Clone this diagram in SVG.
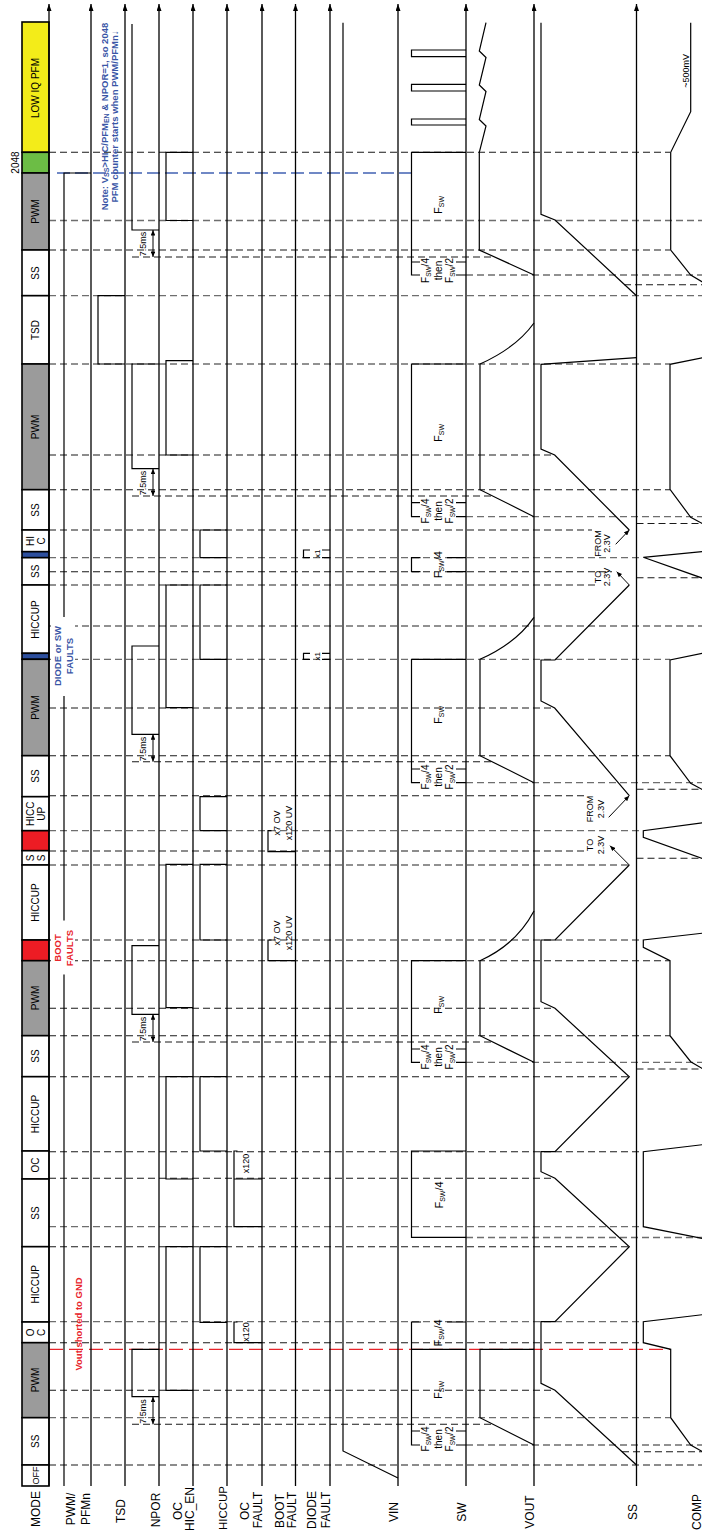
<svg xmlns="http://www.w3.org/2000/svg" width="702" height="1530" viewBox="0 0 702 1530">
<defs>
<style>
.ax{stroke:#000;stroke-width:1.3;fill:none}
.sg{stroke:#000;stroke-width:1.2;fill:none}
.dk{stroke:#1a1a1a;stroke-width:1.1;stroke-dasharray:7 4;fill:none}
.dg{stroke:#6e6e6e;stroke-width:1.3;stroke-dasharray:7 4;fill:none}
.db{stroke:#4262b2;stroke-width:1.3;stroke-dasharray:13 5;fill:none}
.dr{stroke:#e8242b;stroke-width:1.3;stroke-dasharray:14 6;fill:none}
.mb{stroke:#000;stroke-width:1.6}
.ar{stroke:#000;stroke-width:1;fill:none}
text{font-family:"Liberation Sans",Arial,Helvetica,sans-serif;fill:#000;text-anchor:middle}
.lb{font-size:12px}
.md{font-size:10px}
.sm{font-size:9px}
.sl{font-size:10px}
.fs{font-size:11px}
.bl{fill:#3a56a6;font-weight:bold;font-size:9.5px}
.rd{fill:#e8242b;font-weight:bold;font-size:9.5px}
</style>
<marker id="up" viewBox="0 0 7 5" refX="7" refY="2.5" markerWidth="7" markerHeight="5" markerUnits="userSpaceOnUse" orient="auto"><path d="M0,0L7,2.5L0,5z" fill="#000"/></marker>
<marker id="ah" viewBox="0 0 6 5" refX="6" refY="2.5" markerWidth="6" markerHeight="4.5" markerUnits="userSpaceOnUse" orient="auto-start-reverse"><path d="M0,0L6,2.5L0,5z" fill="#000"/></marker>
</defs>
<rect x="0" y="0" width="702" height="1530" fill="#fff"/>

<g id="connectors">
<path class="dk" d="M49,152.3H670"/>
<path class="db" d="M57,173H411.5"/>
<path class="dg" d="M49,220.5H702"/>
<path class="dk" d="M49,250H670"/>
<path class="dk" d="M132,257H494"/>
<path class="dg" d="M466,275H702"/>
<path class="dk" d="M624,284.7H702"/>
<path class="dg" d="M49,295.7H702"/>
<path class="dg" d="M49,364H670"/>
<path class="dk" d="M49,455H555"/>
<path class="dk" d="M49,489.7H670"/>
<path class="dk" d="M132,496H492.6"/>
<path class="dg" d="M466,516.7H702"/>
<path class="dk" d="M636.5,523.5H702"/>
<path class="dk" d="M49,530H592"/>
<path class="dg" d="M49,557.7H643"/>
<path class="dk" d="M49,571.7H612"/>
<path class="dk" d="M636.5,577.7H702"/>
<path class="dg" d="M49,585H595"/>
<path class="dg" d="M49,626H702"/>
<path class="dg" d="M49,659.3H670"/>
<path class="dk" d="M49,708H555"/>
<path class="dk" d="M49,755.7H670"/>
<path class="dk" d="M132,761.7H492"/>
<path class="dg" d="M466,782.7H702"/>
<path class="dk" d="M636.5,789.3H702"/>
<path class="dk" d="M49,795.7H586"/>
<path class="dg" d="M49,830.7H643"/>
<path class="dk" d="M49,851H588"/>
<path class="dk" d="M636.5,858.3H702"/>
<path class="dg" d="M49,865H629"/>
<path class="dg" d="M49,940H643"/>
<path class="dk" d="M49,960.7H670"/>
<path class="dk" d="M49,1008.3H555"/>
<path class="dk" d="M49,1035.7H670"/>
<path class="dk" d="M132,1042H492.6"/>
<path class="dg" d="M466,1062.3H702"/>
<path class="dk" d="M636.5,1069H702"/>
<path class="dk" d="M49,1076.7H629"/>
<path class="dk" d="M49,1151.7H643"/>
<path class="dk" d="M49,1178.3H555"/>
<path class="dg" d="M49,1226.7H643"/>
<path class="dg" d="M466,1237.5H702"/>
<path class="dk" d="M49,1246.7H629"/>
<path class="dg" d="M49,1321.7H643"/>
<path class="dk" d="M49,1342.7H643"/>
<path class="dk" d="M49,1390.3H555"/>
<path class="dg" d="M49,1417.7H670"/>
<path class="dk" d="M132,1424.3H491"/>
<path class="dg" d="M466,1445H702"/>
<path class="dk" d="M622,1451.7H702"/>
<path class="dk" d="M49,1465H702"/>
<path class="dr" d="M49,1349.3H670"/>
</g>

<g id="mode">
<rect class="mb" x="22" y="22" width="27" height="130.3" fill="#f3ec19"/>
<rect class="mb" x="22" y="152.3" width="27" height="20.7" fill="#6cbd45"/>
<rect class="mb" x="22" y="173" width="27" height="77" fill="#9b9b9b"/>
<rect class="mb" x="22" y="250" width="27" height="45.7" fill="#fff"/>
<rect class="mb" x="22" y="295.7" width="27" height="68.3" fill="#fff"/>
<rect class="mb" x="22" y="364" width="27" height="125.7" fill="#9b9b9b"/>
<rect class="mb" x="22" y="489.7" width="27" height="40.3" fill="#fff"/>
<rect class="mb" x="22" y="530" width="27" height="21.7" fill="#fff"/>
<rect class="mb" x="22" y="551.7" width="27" height="6" fill="#2d4f9e"/>
<rect class="mb" x="22" y="557.7" width="27" height="27.3" fill="#fff"/>
<rect class="mb" x="22" y="585" width="27" height="68.3" fill="#fff"/>
<rect class="mb" x="22" y="653.3" width="27" height="6" fill="#2d4f9e"/>
<rect class="mb" x="22" y="659.3" width="27" height="96.4" fill="#9b9b9b"/>
<rect class="mb" x="22" y="755.7" width="27" height="41" fill="#fff"/>
<rect class="mb" x="22" y="796.7" width="27" height="34" fill="#fff"/>
<rect class="mb" x="22" y="830.7" width="27" height="20" fill="#ed1c24"/>
<rect class="mb" x="22" y="850.7" width="27" height="14.3" fill="#fff"/>
<rect class="mb" x="22" y="865" width="27" height="75" fill="#fff"/>
<rect class="mb" x="22" y="940" width="27" height="20.7" fill="#ed1c24"/>
<rect class="mb" x="22" y="960.7" width="27" height="75" fill="#9b9b9b"/>
<rect class="mb" x="22" y="1035.7" width="27" height="41" fill="#fff"/>
<rect class="mb" x="22" y="1076.7" width="27" height="74.3" fill="#fff"/>
<rect class="mb" x="22" y="1151" width="27" height="28" fill="#fff"/>
<rect class="mb" x="22" y="1179" width="27" height="67.7" fill="#fff"/>
<rect class="mb" x="22" y="1246.7" width="27" height="75.3" fill="#fff"/>
<rect class="mb" x="22" y="1322" width="27" height="20.7" fill="#fff"/>
<rect class="mb" x="22" y="1342.7" width="27" height="75" fill="#9b9b9b"/>
<rect class="mb" x="22" y="1417.7" width="27" height="47.3" fill="#fff"/>
<rect class="mb" x="22" y="1465" width="27" height="21" fill="#fff"/>
<text class="md" transform="translate(39.3,88) rotate(-90)">LOW IQ PFM</text>
<text class="md" transform="translate(38.5,211.5) rotate(-90)">PWM</text>
<text class="md" transform="translate(39,273) rotate(-90)">SS</text>
<text class="md" transform="translate(39,330) rotate(-90)">TSD</text>
<text class="md" transform="translate(38.5,427) rotate(-90)">PWM</text>
<text class="md" transform="translate(39,510) rotate(-90)">SS</text>
<text class="md" transform="translate(33.6,541) rotate(-90)">HI</text>
<text class="md" transform="translate(44.8,541) rotate(-90)">C</text>
<text class="md" transform="translate(39,571.3) rotate(-90)">SS</text>
<text class="md" transform="translate(39,619.5) rotate(-90)">HICCUP</text>
<text class="md" transform="translate(38.5,707.5) rotate(-90)">PWM</text>
<text class="md" transform="translate(39,776) rotate(-90)">SS</text>
<text class="md" transform="translate(33.6,813.7) rotate(-90)">HICC</text>
<text class="md" transform="translate(44.8,813.7) rotate(-90)">UP</text>
<text class="md" transform="translate(33.6,857.9) rotate(-90)">S</text>
<text class="md" transform="translate(44.8,857.9) rotate(-90)">S</text>
<text class="md" transform="translate(39,902.5) rotate(-90)">HICCUP</text>
<text class="md" transform="translate(38.5,998) rotate(-90)">PWM</text>
<text class="md" transform="translate(39,1056) rotate(-90)">SS</text>
<text class="md" transform="translate(39,1114) rotate(-90)">HICCUP</text>
<text class="md" transform="translate(39,1165) rotate(-90)">OC</text>
<text class="md" transform="translate(39,1213) rotate(-90)">SS</text>
<text class="md" transform="translate(39,1284.3) rotate(-90)">HICCUP</text>
<text class="md" transform="translate(33.6,1332.3) rotate(-90)">O</text>
<text class="md" transform="translate(44.8,1332.3) rotate(-90)">C</text>
<text class="md" transform="translate(38.5,1380) rotate(-90)">PWM</text>
<text class="md" transform="translate(39,1441.3) rotate(-90)">SS</text>
<text class="sm" transform="translate(39,1475.5) rotate(-90)">OFF</text>
<text class="md" transform="translate(18.5,162.5) rotate(-90)">2048</text>
</g>

<g id="axes">
<path class="ax" marker-end="url(#up)" d="M49,1486V4"/>
<path class="ax" marker-end="url(#up)" d="M91,1486V4"/>
<path class="ax" marker-end="url(#up)" d="M125,1486V4"/>
<path class="ax" marker-end="url(#up)" d="M159,1486V4"/>
<path class="ax" marker-end="url(#up)" d="M193,1486V4"/>
<path class="ax" marker-end="url(#up)" d="M227,1486V4"/>
<path class="ax" marker-end="url(#up)" d="M262,1486V4"/>
<path class="ax" marker-end="url(#up)" d="M295.5,1486V4"/>
<path class="ax" marker-end="url(#up)" d="M330,1486V4"/>
<path class="ax" marker-end="url(#up)" d="M398,1486V4"/>
<path class="ax" marker-end="url(#up)" d="M466,1486V4"/>
<path class="ax" marker-end="url(#up)" d="M534,1486V4"/>
<path class="ax" marker-end="url(#up)" d="M636.5,1486V4"/>
</g>

<g id="sig-pwmpfm">
<path class="sg" d="M91,173H64V617M64,696V920.7M64,974.3V1486"/>
</g>
<g id="sig-tsd">
<path class="sg" d="M125,295.7H98V364H125"/>
</g>
<g id="sig-npor">
<path class="sg" d="M132,24V230H159M159,364H132V468.7H159M159,646H132V734.3H159M159,945.7H132V1014.3H159M159,1349.3H132V1396.7H159"/>
<path class="ar" marker-start="url(#ah)" marker-end="url(#ah)" d="M153,230V257"/>
<path class="ar" marker-start="url(#ah)" marker-end="url(#ah)" d="M153,468.7V496"/>
<path class="ar" marker-start="url(#ah)" marker-end="url(#ah)" d="M153,734.3V761.7"/>
<path class="ar" marker-start="url(#ah)" marker-end="url(#ah)" d="M153,1014.3V1042"/>
<path class="ar" marker-start="url(#ah)" marker-end="url(#ah)" d="M153,1396.7V1424.3"/>
<text class="sm" transform="translate(146,244) rotate(-90)">7.5ms</text>
<text class="sm" transform="translate(146,483) rotate(-90)">7.5ms</text>
<text class="sm" transform="translate(146,749) rotate(-90)">7.5ms</text>
<text class="sm" transform="translate(146,1029) rotate(-90)">7.5ms</text>
<text class="sm" transform="translate(146,1411.5) rotate(-90)">7.5ms</text>
</g>
<g id="sig-ochicen">
<path class="sg" d="M193,152.3H166V220.5H193M193,360.7H166V455H193M193,585H166V707.7H193M193,864.3H166V1007.7H193M193,1076.7H166V1179H193M193,1246.7H166V1390.3H193"/>
</g>
<g id="sig-hiccup">
<path class="sg" d="M227,530H200V557.7H227M227,585H200V659.3H227M227,796.7H200V830.7H227M227,864.3H200V940H227M227,1076.7H200V1151H227M227,1246.7H200V1322.3H227"/>
</g>
<g id="sig-ocfault">
<path class="sg" d="M237.5,1151H234V1226.7H262M234,1179H262M237.5,1322H234V1342.7H262"/>
<text class="sm" transform="translate(248.5,1163.5) rotate(-90)">x120</text>
<text class="sm" transform="translate(248.5,1332) rotate(-90)">x120</text>
</g>
<g id="sig-bootfault">
<path class="sg" d="M271.5,830.7H268V851.7H295.5M271.5,940H268V960.7H295.5"/>
<text class="sm" transform="translate(279.5,823) rotate(-90)">x7 OV</text>
<text class="sm" transform="translate(292,823) rotate(-90)">x120 UV</text>
<text class="sm" transform="translate(279.5,933) rotate(-90)">x7 OV</text>
<text class="sm" transform="translate(292,933) rotate(-90)">x120 UV</text>
</g>
<g id="sig-diodefault">
<path class="sg" d="M310,550H303.5V557.7H310M322,550H330M322,557.7H330M310,653.3H303.5V659.3H310M322,653.3H330M322,659.3H330"/>
<text style="font-size:8px" transform="translate(319.5,553.8) rotate(-90)">x1</text>
<text style="font-size:8px" transform="translate(319.5,656.3) rotate(-90)">x1</text>
</g>
<g id="sig-vin">
<path class="sg" d="M343,22.7V1451L398,1478"/>
</g>
<g id="sig-sw">
<path class="sg" d="M466,50H411.5V56.7H466M466,84.3H411.5V91H466M466,119H411.5V125H466"/>
<path class="sg" d="M466,152.3H411.5V275H420M456,275H466M411.5,262H420M456,262H466"/>
<path class="sg" d="M466,364H411.5V516.7H420M456,516.7H466M411.5,502.7H420M456,502.7H466"/>
<path class="sg" d="M420.5,557.7H411.5V571.7H420.5M447,557.7H466M447,571.7H466"/>
<path class="sg" d="M466,659.3H411.5V782.7H420M456,782.7H466M411.5,769H420M456,769H466"/>
<path class="sg" d="M466,960.7H411.5V1062.3H420M456,1062.3H466M411.5,1049H420M456,1049H466"/>
<path class="sg" d="M466,1151H411.5V1237.3H466"/>
<path class="sg" d="M421,1322H411.5V1445H420M447,1322H466M411.5,1349.3H466M411.5,1431H420M456,1431H466M456,1445H466"/>
<text class="fs" transform="translate(442,205) rotate(-90)">F<tspan font-size="7" dy="2">SW</tspan></text>
<text class="fs" transform="translate(442,433) rotate(-90)">F<tspan font-size="7" dy="2">SW</tspan></text>
<text class="fs" transform="translate(442,715) rotate(-90)">F<tspan font-size="7" dy="2">SW</tspan></text>
<text class="fs" transform="translate(442,1005) rotate(-90)">F<tspan font-size="7" dy="2">SW</tspan></text>
<text class="fs" transform="translate(442,1390) rotate(-90)">F<tspan font-size="7" dy="2">SW</tspan></text>
<text class="fs" transform="translate(442,564.7) rotate(-90)">F<tspan font-size="7" dy="2">SW</tspan><tspan dy="-2">/4</tspan></text>
<text class="fs" transform="translate(443,1195) rotate(-90)">F<tspan font-size="7" dy="2">SW</tspan><tspan dy="-2">/4</tspan></text>
<text class="fs" transform="translate(442,1333) rotate(-90)">F<tspan font-size="7" dy="2">SW</tspan><tspan dy="-2">/4</tspan></text>
<text class="sl" transform="translate(428.7,270.5) rotate(-90)">F<tspan font-size="6.5" dy="2">SW</tspan><tspan dy="-2">/4</tspan></text>
<text class="sl" transform="translate(441.5,270.5) rotate(-90)">then</text>
<text class="sl" transform="translate(452.5,270.5) rotate(-90)">F<tspan font-size="6.5" dy="2">SW</tspan><tspan dy="-2">/2</tspan></text>
<text class="sl" transform="translate(428.7,511) rotate(-90)">F<tspan font-size="6.5" dy="2">SW</tspan><tspan dy="-2">/4</tspan></text>
<text class="sl" transform="translate(441.5,511) rotate(-90)">then</text>
<text class="sl" transform="translate(452.5,511) rotate(-90)">F<tspan font-size="6.5" dy="2">SW</tspan><tspan dy="-2">/2</tspan></text>
<text class="sl" transform="translate(428.7,777) rotate(-90)">F<tspan font-size="6.5" dy="2">SW</tspan><tspan dy="-2">/4</tspan></text>
<text class="sl" transform="translate(441.5,777) rotate(-90)">then</text>
<text class="sl" transform="translate(452.5,777) rotate(-90)">F<tspan font-size="6.5" dy="2">SW</tspan><tspan dy="-2">/2</tspan></text>
<text class="sl" transform="translate(428.7,1057) rotate(-90)">F<tspan font-size="6.5" dy="2">SW</tspan><tspan dy="-2">/4</tspan></text>
<text class="sl" transform="translate(441.5,1057) rotate(-90)">then</text>
<text class="sl" transform="translate(452.5,1057) rotate(-90)">F<tspan font-size="6.5" dy="2">SW</tspan><tspan dy="-2">/2</tspan></text>
<text class="sl" transform="translate(428.7,1439) rotate(-90)">F<tspan font-size="6.5" dy="2">SW</tspan><tspan dy="-2">/4</tspan></text>
<text class="sl" transform="translate(441.5,1439) rotate(-90)">then</text>
<text class="sl" transform="translate(452.5,1439) rotate(-90)">F<tspan font-size="6.5" dy="2">SW</tspan><tspan dy="-2">/2</tspan></text>
</g>
<g id="sig-vout">
<path class="sg" d="M486,22.7L479.3,51L486,57.5L479.3,85L486,91.5L479.3,119.5L486,126L479.3,152.3V250L534,275"/>
<path class="sg" d="M534,323Q516,348 480,364V489.7L534,516.7"/>
<path class="sg" d="M534,617.3Q516,643.3 480,659.3V755.7L534,782.7"/>
<path class="sg" d="M534,911Q516,944.7 480,960.7V1035.7L534,1062.3"/>
<path class="sg" d="M534,1349.3H480V1417.7L534,1445"/>
</g>
<g id="sig-ss">
<path class="sg" d="M541,22.7V214.3L555,220L636.5,295.7"/>
<path class="sg" d="M636.5,357.7L541,364.3V449L554.7,455L629.3,530"/>
<path class="sg" d="M629.3,585L555,660H541V701L554.7,708L629.3,795.7"/>
<path class="sg" d="M629.3,865L555,940H541V1001.7L555,1008.3L629.3,1076.7L555,1151.7H541V1171.7L555,1178.3L629.3,1246.7L555,1321.7H541V1383.3L555,1390.3L636.5,1465"/>
<path class="ar" stroke-width="1.3" marker-end="url(#ah)" d="M615.7,544.3L629.3,530"/>
<path class="ar" stroke-width="1.3" marker-end="url(#ah)" d="M629.3,585L616.7,571.7"/>
<path class="ar" stroke-width="1.3" marker-end="url(#ah)" d="M608.7,817.3L629.3,795.7"/>
<path class="ar" stroke-width="1.3" marker-end="url(#ah)" d="M629.3,865L610,845.7"/>
<text class="sm" transform="translate(601,543.5) rotate(-90)">FROM</text>
<text class="sm" transform="translate(610,543.5) rotate(-90)">2.3V</text>
<text class="sm" transform="translate(601,577) rotate(-90)">TO</text>
<text class="sm" transform="translate(610,577) rotate(-90)">2.3V</text>
<text class="sm" transform="translate(593,809) rotate(-90)">FROM</text>
<text class="sm" transform="translate(603.5,809) rotate(-90)">2.3V</text>
<text class="sm" transform="translate(593,845) rotate(-90)">TO</text>
<text class="sm" transform="translate(603.5,845) rotate(-90)">2.3V</text>
</g>
<g id="sig-comp">
<path class="sg" d="M690.7,22.7V111.7L670.7,152.3V250L690.7,275L704,283"/>
<path class="sg" d="M704,357.5L670,364.3V489.3L690.7,517.3L704,524.5"/>
<path class="sg" d="M704,551.5L643.3,557.3L704,578.7"/>
<path class="sg" d="M704,653L670,660V755.7L690.7,783.3L704,790.5"/>
<path class="sg" d="M704,822.5L643.3,830.7V837.3L704,859"/>
<path class="sg" d="M704,933L643.3,940V947.3L670,960.7V1035.7L690.7,1061.7L704,1069.5"/>
<path class="sg" d="M704,1144.5L643.3,1151.7V1226.7L704,1238.8"/>
<path class="sg" d="M704,1314.5L643.3,1321.7V1342.7L670.7,1349.3V1417.7L690.7,1445L704,1452.5"/>
<text class="sm" transform="translate(689,70.8) rotate(-90)">~500mV</text>
</g>

<g id="notes">
<rect x="51" y="617" width="24" height="79" fill="#fff"/>
<rect x="51" y="920.7" width="24" height="53.6" fill="#fff"/>
<text class="bl" transform="translate(107.5,116.5) rotate(-90)">Note: V<tspan font-size="7" dy="1.5">SS</tspan><tspan dy="-1.5">&gt;HIC/PFM</tspan><tspan font-size="7" dy="1.5">EN</tspan><tspan dy="-1.5"> &amp; NPOR=1, so 2048</tspan></text>
<text class="bl" transform="translate(117.5,116.5) rotate(-90)">PFM counter starts when PWM/PFMn↓</text>
<text class="bl" transform="translate(60.5,656) rotate(-90)">DIODE or SW</text>
<text class="bl" transform="translate(72.5,656) rotate(-90)">FAULTS</text>
<text class="rd" transform="translate(60.5,948) rotate(-90)">BOOT</text>
<text class="rd" transform="translate(72.5,948) rotate(-90)">FAULTS</text>
<text class="rd" transform="translate(82,1324) rotate(-90)">Vout shorted to GND</text>
</g>

<g id="labels">
<text class="lb" transform="translate(39.5,1509) rotate(-90)">MODE</text>
<text class="lb" transform="translate(75,1509) rotate(-90)">PWM/</text>
<text class="lb" transform="translate(89.5,1509) rotate(-90)">PFMn</text>
<text class="lb" transform="translate(124.5,1511) rotate(-90)">TSD</text>
<text class="lb" transform="translate(159.5,1510) rotate(-90)">NPOR</text>
<text class="lb" transform="translate(182,1511) rotate(-90)">OC</text>
<text class="lb" transform="translate(193.5,1509) rotate(-90)">HIC_EN</text>
<text class="lb" style="font-size:11.5px" transform="translate(226.7,1508) rotate(-90)">HICCUP</text>
<text class="lb" transform="translate(248.5,1511) rotate(-90)">OC</text>
<text class="lb" transform="translate(262,1510) rotate(-90)">FAULT</text>
<text class="lb" transform="translate(283.5,1511) rotate(-90)">BOOT</text>
<text class="lb" transform="translate(296,1510) rotate(-90)">FAULT</text>
<text class="lb" transform="translate(316,1510) rotate(-90)">DIODE</text>
<text class="lb" transform="translate(330,1510) rotate(-90)">FAULT</text>
<text class="lb" transform="translate(397.7,1512) rotate(-90)">VIN</text>
<text class="lb" transform="translate(466,1512) rotate(-90)">SW</text>
<text class="lb" transform="translate(533.5,1512) rotate(-90)">VOUT</text>
<text class="lb" transform="translate(636.5,1512) rotate(-90)">SS</text>
<text class="lb" transform="translate(701,1512) rotate(-90)">COMP</text>
</g>
</svg>
